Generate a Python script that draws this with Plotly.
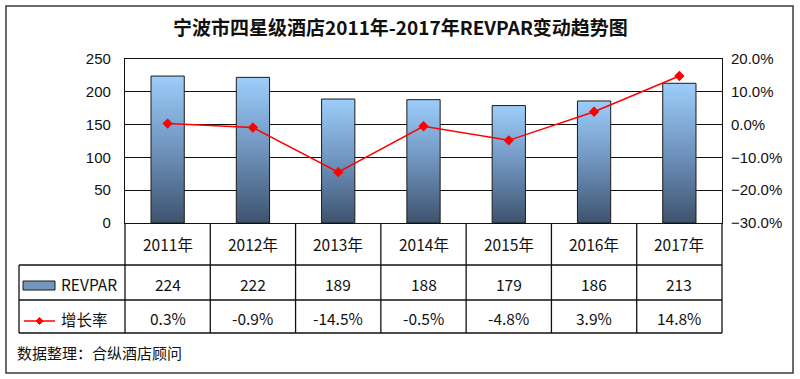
import plotly.graph_objects as go

# ---- data ----
years = ["2011年", "2012年", "2013年", "2014年", "2015年", "2016年", "2017年"]
revpar = [224, 222, 189, 188, 179, 186, 213]
growth = [0.003, -0.009, -0.145, -0.005, -0.048, 0.039, 0.148]
growth_labels = ["0.3%", "-0.9%", "-14.5%", "-0.5%", "-4.8%", "3.9%", "14.8%"]
left_ticks = [0, 50, 100, 150, 200, 250]
right_ticks = [-0.3, -0.2, -0.1, 0.0, 0.1, 0.2]

title_text = "宁波市四星级酒店2011年-2017年REVPAR变动趋势图"
source_text = "数据整理：合纵酒店顾问"
bar_name = "REVPAR"
line_name = "增长率"

# ---- geometry (pixels) ----
W, H = 800, 379
L, R, T, B = 125, 722, 59, 223


def px(x):
    return (x - L) / (R - L)


def py(y):
    return (B - y) / (B - T)


FONT = "Arial, 'Liberation Sans', 'Noto Sans CJK SC', sans-serif"
CJK = "'Noto Sans CJK SC', sans-serif"

fig = go.Figure()

xs = list(range(len(years)))
hw = 0.195
for i, v in zip(xs, revpar):
    fig.add_trace(go.Scatter(
        x=[i - hw, i + hw, i + hw, i - hw, i - hw],
        y=[0, 0, v, v, 0],
        mode="lines", fill="toself",
        line=dict(color="#1a1a1a", width=1),
        fillgradient=dict(type="vertical", start=0, stop=v,
                          colorscale=[[0, "#3d536e"], [0.5, "#6f93bd"], [1, "#9dcdfb"]]),
        showlegend=False, hoverinfo="skip", yaxis="y"))

fig.add_trace(go.Scatter(
    x=xs, y=growth, mode="lines+markers", yaxis="y2",
    line=dict(color="#ff0000", width=1.5),
    marker=dict(symbol="diamond", size=8, color="#ff0000"),
    showlegend=False, hoverinfo="skip"))

shapes = []
ann = []
lc = "#111111"
# table horizontal lines
for yy in (265, 300, 333):
    shapes.append(dict(type="line", xref="paper", yref="paper",
                       x0=px(19), x1=px(R), y0=py(yy), y1=py(yy),
                       line=dict(color=lc, width=1.3)))
# left border of legend column
shapes.append(dict(type="line", xref="paper", yref="paper",
                   x0=px(19), x1=px(19), y0=py(265), y1=py(333),
                   line=dict(color=lc, width=1.3)))
# verticals at plot edges
for xx in (L, R):
    shapes.append(dict(type="line", xref="paper", yref="paper",
                       x0=px(xx), x1=px(xx), y0=py(B), y1=py(333),
                       line=dict(color=lc, width=1.3)))
# column boundaries
for i in range(len(years) - 1):
    shapes.append(dict(type="line", xref="x", yref="paper",
                       x0=i + 0.5, x1=i + 0.5, y0=py(B), y1=py(333),
                       line=dict(color=lc, width=1.3)))
# outer frame
shapes.append(dict(type="rect", xref="paper", yref="paper",
                   x0=px(6), x1=px(793), y0=py(6), y1=py(373),
                   line=dict(color="#3a3a3a", width=1.5)))
# legend symbols
shapes.append(dict(type="rect", xref="paper", yref="paper",
                   x0=px(23), x1=px(55), y0=py(281), y1=py(290),
                   fillcolor="#7596bd", line=dict(color="#1a1a1a", width=1)))
shapes.append(dict(type="line", xref="paper", yref="paper",
                   x0=px(24), x1=px(55), y0=py(321), y1=py(321),
                   line=dict(color="#ff0000", width=1.5)))
cx, cy, d = 39.5, 321, 3.5
shapes.append(dict(type="path", xref="paper", yref="paper",
                   path=f"M {px(cx - d)} {py(cy)} L {px(cx)} {py(cy - d)} L {px(cx + d)} {py(cy)} L {px(cx)} {py(cy + d)} Z",
                   fillcolor="#ff0000", line=dict(color="#ff0000", width=1)))


def txt(x, xref, y, text, size=15.5, xanchor="center", bold=False):
    return dict(x=x, xref=xref, y=py(y), yref="paper",
                text=f"<b>{text}</b>" if bold else text,
                xanchor=xanchor, yanchor="middle", showarrow=False,
                font=dict(family=CJK, size=size, color="#111"))


# table text
for i in xs:
    ann.append(txt(i, "x", 244, years[i]))
    ann.append(txt(i, "x", 284, str(revpar[i])))
    ann.append(txt(i, "x", 318, growth_labels[i]))
ann.append(txt(px(59), "paper", 284, bar_name, xanchor="left"))
ann.append(txt(px(59), "paper", 319, line_name, xanchor="left"))
ann.append(txt(px(15), "paper", 352, source_text, size=15, xanchor="left"))
ann.append(txt(px(400), "paper", 26, title_text, size=19, bold=True))

fig.update_layout(
    width=W, height=H,
    margin=dict(l=L, r=W - R, t=T, b=H - B, pad=0),
    paper_bgcolor="white", plot_bgcolor="white",
    font=dict(family=FONT, size=15, color="#111"),
    xaxis=dict(range=[-0.5, len(years) - 0.5], showticklabels=False, showgrid=False,
               zeroline=False, showline=True, mirror=True, linecolor=lc, linewidth=1.3,
               fixedrange=True),
    yaxis=dict(range=[0, 250], tickvals=left_ticks, showgrid=True, gridcolor=lc, gridwidth=1,
               zeroline=False, showline=True, mirror=True, linecolor=lc, linewidth=1.3,
               ticks="outside", ticklen=10, tickcolor="rgba(0,0,0,0)",
               tickfont=dict(family=FONT, size=15, color="#111")),
    yaxis2=dict(range=[-0.3, 0.2], tickvals=right_ticks, tickformat=".1%", overlaying="y",
                side="right", showgrid=False, zeroline=False,
                ticks="outside", ticklen=5, tickcolor="rgba(0,0,0,0)",
                tickfont=dict(family=FONT, size=15, color="#111")),
    shapes=shapes, annotations=ann,
)

fig.write_html("out.html", config={"displayModeBar": False},
               post_script="document.body.style.margin='0px';document.body.style.overflow='hidden';")
